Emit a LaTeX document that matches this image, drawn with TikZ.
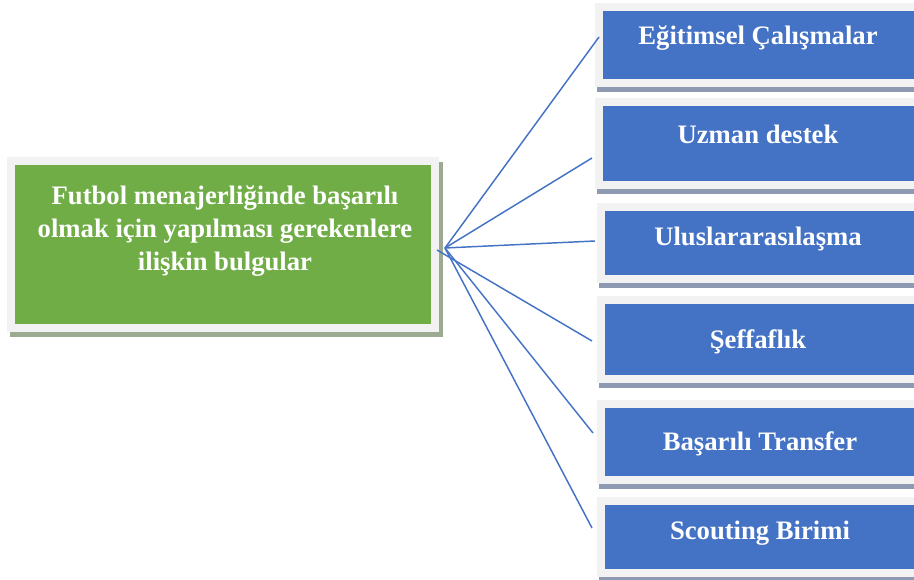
\documentclass[tikz,border=0pt]{standalone}
\usepackage{fontspec}
\setmainfont{Liberation Serif}
\usetikzlibrary{calc}
\definecolor{gfill}{HTML}{70AD47}
\definecolor{bfill}{HTML}{4472C4}
\definecolor{framec}{HTML}{F2F2F2}
\definecolor{gshadow}{HTML}{9DAA92}
\definecolor{bshadow}{HTML}{8E9AB2}
\definecolor{linec}{HTML}{4472C4}
\begin{document}
\begin{tikzpicture}[x=0.75pt,y=-0.75pt,
  framebox/.style={rectangle, draw=framec, line width=6pt, inner sep=0pt},
  greenbox/.style={framebox, fill=gfill},
  bluebox/.style={framebox, fill=bfill, minimum width=336*0.75pt},
  boxtext/.style={text=white, font=\bfseries\fontsize{20}{24.5}\selectfont, inner sep=0pt, align=center},
  conn/.style={draw=linec, line width=1.1pt}
]
\useasboundingbox (0,0) rectangle (914,580);
\clip (0,0) rectangle (914,580);
% shadows
\fill[gshadow] (10,162) rectangle (443,337);
\fill[bshadow] (597,8) rectangle (935,92);
\fill[bshadow] (597,103) rectangle (935,194);
\fill[bshadow] (599,208) rectangle (935,288);
\fill[bshadow] (599,301) rectangle (935,388);
\fill[bshadow] (599,405) rectangle (935,489);
\fill[bshadow] (599,502) rectangle (935,582);
% boxes
\node[greenbox, minimum width=424*0.75pt, minimum height=167*0.75pt] (g) at (223,244.5) {};
\node[bluebox, minimum height=76*0.75pt] (b1) at (767,45) {};
\node[bluebox, minimum height=83*0.75pt] (b2) at (767,143.5) {};
\node[bluebox, minimum height=72*0.75pt] (b3) at (769,243) {};
\node[bluebox, minimum height=79*0.75pt] (b4) at (769,339.5) {};
\node[bluebox, minimum height=76*0.75pt] (b5) at (769,442) {};
\node[bluebox, minimum height=72*0.75pt] (b6) at (769,537) {};
% texts
\node[boxtext] (gt) at (225,231) {Futbol menajerliğinde başarılı\\olmak için yapılması gerekenlere\\ilişkin bulgular};
\node[boxtext] (t1) at (758,38.5) {Eğitimsel Çalışmalar};
\node[boxtext] (t2) at (758,134.5) {Uzman destek};
\node[boxtext] (t3) at (758,238.5) {Uluslararasılaşma};
\node[boxtext] (t4) at (758,341.5) {Şeffaflık};
\node[boxtext] (t5) at (760,443.5) {Başarılı Transfer};
\node[boxtext] (t6) at (760,533.5) {Scouting Birimi};
% connectors
\coordinate (hub) at ($(g.east)+(6,3.5)$);
\draw[conn] (hub) -- ($(b1.west)+(4,-8)$);
\draw[conn] (hub) -- ($(b2.west)+(-3,14.5)$);
\draw[conn] (hub) -- ($(b3.west)+(-2,-2)$);
\draw[conn] ($(g.east)+(-2,5.5)$) -- ($(b4.west)+(-5,1.5)$);
\draw[conn] (hub) -- ($(b5.west)+(-4,-9)$);
\draw[conn] (hub) -- ($(b6.west)+(-5,-9)$);
\end{tikzpicture}
\end{document}
